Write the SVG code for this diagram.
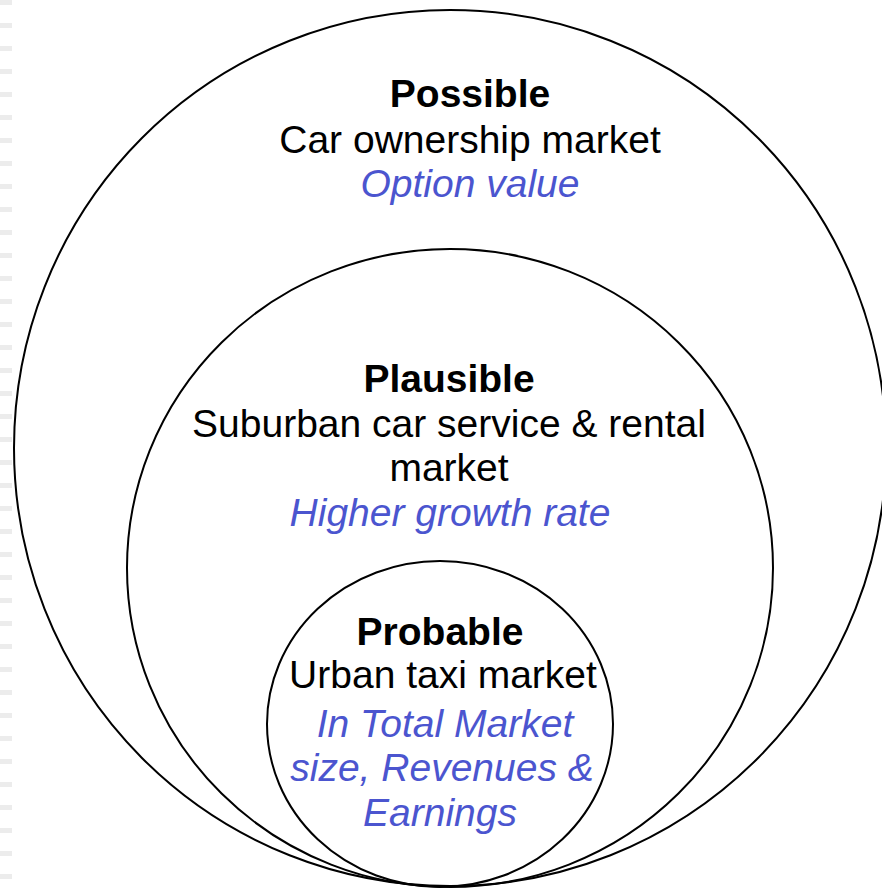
<svg xmlns="http://www.w3.org/2000/svg" width="882" height="894" viewBox="0 0 882 894">
  <defs>
    <pattern id="dash" x="0" y="0" width="12" height="23" patternUnits="userSpaceOnUse">
      <rect x="0" y="0" width="12" height="5" fill="#ececec"/>
    </pattern>
  </defs>
  <style>
    .ring { fill: none; stroke: #000; stroke-width: 2; }
    text { font-family: "Liberation Sans", Arial, sans-serif; font-size: 39px; text-anchor: middle; fill: #000; }
    .title { font-weight: bold; }
    .note { font-style: italic; fill: #4b55cf; }
  </style>
  <rect width="882" height="894" fill="#fff"/>
  <rect x="0" y="0" width="12" height="880" fill="url(#dash)"/>
  <g id="possible">
    <ellipse class="ring" cx="450" cy="448" rx="436" ry="438"/>
    <text class="title" x="470" y="107">Possible</text>
    <text x="470" y="153">Car ownership market</text>
    <text class="note" x="470" y="197">Option value</text>
  </g>
  <g id="plausible">
    <ellipse class="ring" cx="450" cy="568" rx="323" ry="319"/>
    <text class="title" x="449" y="392">Plausible</text>
    <text x="449" y="437">Suburban car service &amp; rental</text>
    <text x="449" y="481">market</text>
    <text class="note" x="450" y="526">Higher growth rate</text>
  </g>
  <g id="probable">
    <ellipse class="ring" cx="440" cy="724" rx="173" ry="163"/>
    <text class="title" x="440" y="645">Probable</text>
    <text x="443" y="688">Urban taxi market</text>
    <text class="note" x="445" y="737">In Total Market</text>
    <text class="note" x="442" y="781">size, Revenues &amp;</text>
    <text class="note" x="440" y="826">Earnings</text>
  </g>
  <g id="connectors"></g>
</svg>
